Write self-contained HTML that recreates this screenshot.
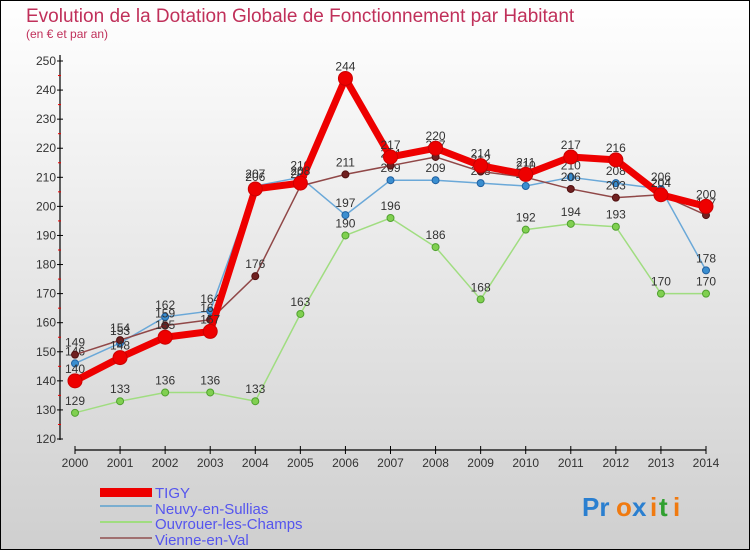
<!DOCTYPE html>
<html><head><meta charset="utf-8"><style>
body{margin:0;width:750px;height:550px;overflow:hidden}
svg{display:block;font-family:"Liberation Sans",sans-serif}
</style></head><body>
<svg id="c" width="750" height="550">
<defs><linearGradient id="bg" x1="0" y1="0" x2="0" y2="1"><stop offset="0" stop-color="#ffffff"/><stop offset="1" stop-color="#cfcfcf"/></linearGradient></defs>
<rect x="0.5" y="0.5" width="749" height="549" fill="url(#bg)" stroke="#000"/>
<text x="26" y="22" font-size="19" fill="#c0305a">Evolution de la Dotation Globale de Fonctionnement par Habitant</text>
<text x="26" y="38" font-size="12" fill="#c0305a">(en € et par an)</text>
<g id="axes"></g><g id="series"></g>
<g>
<rect x="100" y="488" width="52" height="9" fill="#ee0000"/>
<text x="155" y="498" font-size="15" fill="#5555ee">TIGY</text>
<line x1="100" y1="506" x2="152" y2="506" stroke="#7aaed0" stroke-width="2"/>
<text x="155" y="514" font-size="15" fill="#5555ee">Neuvy-en-Sullias</text>
<line x1="100" y1="522" x2="152" y2="522" stroke="#a0dd80" stroke-width="2"/>
<text x="155" y="529" font-size="15" fill="#5555ee">Ouvrouer-les-Champs</text>
<line x1="100" y1="538" x2="152" y2="538" stroke="#a07070" stroke-width="2"/>
<text x="155" y="545" font-size="15" fill="#5555ee">Vienne-en-Val</text>
</g>
<g font-size="26" font-weight="bold"><text x="582" y="516" fill="#2a7fd0">Pr</text><text x="616" y="516" fill="#f07a10">o</text><text x="632" y="516" fill="#2a7fd0">x</text><text x="650" y="516" fill="#f07a10">i</text><text x="659" y="516" fill="#30a030">t</text><text x="673" y="516" fill="#f07a10">i</text></g>
</svg>
<script>
const years=[2000,2001,2002,2003,2004,2005,2006,2007,2008,2009,2010,2011,2012,2013,2014];
const yTicks=[120,130,140,150,160,170,180,190,200,210,220,230,240,250];
const tigy=[140,148,155,157,206,208,244,217,220,214,211,217,216,204,200];
const neuvy=[146,153,162,164,207,210,197,209,209,208,207,210,208,206,178];
const ouvrouer=[129,133,136,136,133,163,190,196,186,168,192,194,193,170,170];
const vienne=[149,154,159,161,176,207,211,214,217,212,210,206,203,204,197];
const NS="http://www.w3.org/2000/svg";
const xS=i=>75+i*(706-75)/(years.length-1);
const yS=v=>439-(v-120)*(439-61)/130;
function mk(t,a,p){const e=document.createElementNS(NS,t);for(const k in a)e.setAttribute(k,a[k]);p.appendChild(e);return e;}
const ax=document.getElementById('axes');
let e=mk('line',{x1:60,y1:55,x2:60,y2:440,stroke:'#000','stroke-width':1.2},ax);


e=mk('line',{x1:75,y1:450,x2:706,y2:450,stroke:'#000','stroke-width':1.2},ax);


yTicks.forEach((v,i)=>{
  mk('line',{x1:57,y1:yS(v),x2:63,y2:yS(v),stroke:'#000'},ax);
  if(i<yTicks.length-1)mk('line',{x1:58,y1:yS(v+5),x2:61,y2:yS(v+5),stroke:'#e00'},ax);
  const t=mk('text',{x:56,y:yS(v)+4,'font-size':12,fill:'#333','text-anchor':'end'},ax);
  t.textContent=v;
  
  
});
years.forEach((y,i)=>{
  mk('line',{x1:xS(i),y1:446,x2:xS(i),y2:454,stroke:'#000'},ax);
  const t=mk('text',{x:xS(i),y:467,'font-size':12,fill:'#333','text-anchor':'middle'},ax);
  t.textContent=y;
  
  
});
const sg=document.getElementById('series');
function draw(name,data,col,w,r,dot,stroke){
  const g=mk('g',{},sg);
  
  
  const l=mk('polyline',{points:data.map((v,i)=>xS(i)+','+yS(v)).join(' '),fill:'none',stroke:col,'stroke-width':w,'stroke-linejoin':'round'},g);
  
  
  data.forEach((v,i)=>{
    const c=mk('circle',{cx:xS(i),cy:yS(v),r:r,fill:dot,stroke:stroke,'stroke-width':1},g);
    
    
    const t=mk('text',{x:xS(i),y:yS(v)-8,'font-size':12,fill:'#333','text-anchor':'middle'},g);
    t.textContent=v;
    
    
  });
}
draw('ouvrouer',ouvrouer,'#a0dd80',1.5,3.5,'#80d050','#50a030');
draw('neuvy',neuvy,'#6aa8d8',1.5,3.5,'#3a8ed0','#2060a0');
draw('vienne',vienne,'#904848',1.5,3.5,'#702020','#501010');
draw('tigy',tigy,'#ee0000',7,7,'#ee0000','#cc0000');
</script>
</body></html>
